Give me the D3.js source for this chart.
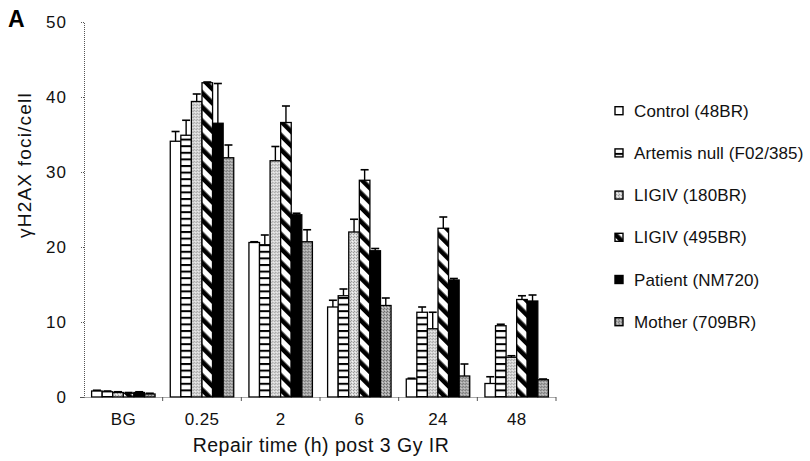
<!DOCTYPE html>
<html>
<head>
<meta charset="utf-8">
<script src="https://cdn.jsdelivr.net/npm/d3@7"></script>
<style>
    body { margin: 0; background: #fff; }
    svg { display: block; font-family: Arial, "Liberation Sans", sans-serif; }
    .tick text { font-size: 17px; fill: #111; }
</style>
</head>
<body>
<svg id="chart" width="810" height="461"></svg>
<script>
// data
var categories = ["BG", "0.25", "2", "6", "24", "48"];
var seriesNames = ["Control (48BR)", "Artemis null (F02/385)", "LIGIV (180BR)", "LIGIV (495BR)", "Patient (NM720)", "Mother (709BR)"];
var controlVals = [0.8, 34.1, 20.6, 12.0, 2.4, 1.8];
var controlErr = [0.1, 1.3, 0.1, 0.9, 0.1, 0.9];
var artemisVals = [0.7, 34.9, 20.3, 13.5, 11.3, 9.5];
var artemisErr = [0.1, 2.0, 1.3, 0.9, 0.7, 0.2];
var ligiv180Vals = [0.6, 39.4, 31.5, 22.0, 9.1, 5.3];
var ligiv180Err = [0.1, 1.0, 1.9, 1.7, 2.2, 0.2];
var ligiv495Vals = [0.5, 41.9, 36.6, 28.9, 22.5, 13.0];
var ligiv495Err = [0.1, 0.1, 2.2, 1.4, 1.5, 0.5];
var patientVals = [0.6, 36.5, 24.3, 19.5, 15.6, 12.8];
var patientErr = [0.1, 5.3, 0.2, 0.3, 0.2, 0.8];
var motherVals = [0.4, 31.9, 20.7, 12.2, 2.8, 2.3];
var motherErr = [0.1, 1.7, 1.6, 1.0, 1.6, 0.1];
var yTicks = [0, 10, 20, 30, 40, 50];

var seriesVals = [controlVals, artemisVals, ligiv180Vals, ligiv495Vals, patientVals, motherVals];
var seriesErr = [controlErr, artemisErr, ligiv180Err, ligiv495Err, patientErr, motherErr];
var fills = ["#fff", "url(#hlines)", "url(#stippleLight)", "url(#diag)", "#000", "url(#stippleDark)"];

var svg = d3.select("#chart");
var plotLeft = 84, plotRight = 556, plotTop = 22, plotBottom = 397;

// patterns
var defs = svg.append("defs");
var p = defs.append("pattern").attr("id", "hlines").attr("patternUnits", "userSpaceOnUse")
    .attr("width", 6).attr("height", 6.6);
p.append("rect").attr("width", 6).attr("height", 6.6).attr("fill", "#fff");
p.append("rect").attr("y", 0).attr("width", 6).attr("height", 2).attr("fill", "#000");

p = defs.append("pattern").attr("id", "diag").attr("patternUnits", "userSpaceOnUse")
    .attr("width", 10).attr("height", 10).attr("patternTransform", "rotate(-45)");
p.append("rect").attr("width", 10).attr("height", 10).attr("fill", "#fff");
p.append("rect").attr("x", 0).attr("width", 4.6).attr("height", 10).attr("fill", "#000");

function stipple(id, bg, dot1, dot2) {
    var s = defs.append("pattern").attr("id", id).attr("patternUnits", "userSpaceOnUse")
        .attr("width", 3).attr("height", 3);
    s.append("rect").attr("width", 3).attr("height", 3).attr("fill", bg);
    s.append("rect").attr("x", 0).attr("y", 0).attr("width", 1).attr("height", 1).attr("fill", dot1);
    s.append("rect").attr("x", 2).attr("y", 1).attr("width", 1).attr("height", 1).attr("fill", dot2);
    s.append("rect").attr("x", 1).attr("y", 2).attr("width", 1).attr("height", 1).attr("fill", dot1);
}
stipple("stippleLight", "#d6d6d6", "#9a9a9a", "#f4f4f4");
stipple("stippleDark", "#a9a9a9", "#6e6e6e", "#d0d0d0");

// scales
var x = d3.scaleBand().domain(categories).range([plotLeft, plotRight]).padding(0);
var xInner = d3.scaleBand().domain(d3.range(seriesNames.length))
    .range([7.6, x.bandwidth() - 7.6]).padding(0);
var y = d3.scaleLinear().domain([0, 50]).range([plotBottom, plotTop]);

// y axis
var yAxis = svg.append("g").attr("transform", "translate(" + plotLeft + ",0)")
    .call(d3.axisLeft(y).tickValues(yTicks).tickSize(4).tickPadding(13));
yAxis.select(".domain").attr("stroke", "#555").attr("stroke-dasharray", "1,1");
yAxis.selectAll(".tick line").attr("stroke", "#555").attr("stroke-dasharray", "1,1");
yAxis.selectAll(".tick text").style("letter-spacing", "1px");

// bars
var groups = svg.append("g").selectAll("g").data(categories).join("g")
    .attr("transform", function (c) { return "translate(" + x(c) + ",0)"; });

groups.each(function (c, ci) {
    var g = d3.select(this);
    seriesVals.forEach(function (vals, si) {
        var v = vals[ci];
        var bx = xInner(si), bw = xInner.bandwidth();
        g.append("rect")
            .attr("x", bx).attr("y", y(v))
            .attr("width", bw).attr("height", y(0) - y(v))
            .attr("fill", fills[si]).attr("stroke", "#000").attr("stroke-width", 1.3);
        var e = seriesErr[si][ci];
        var cx = bx + bw / 2;
        g.append("line").attr("x1", cx).attr("x2", cx)
            .attr("y1", y(v)).attr("y2", y(v + e))
            .attr("stroke", "#000").attr("stroke-width", 1.4);
        g.append("line").attr("x1", cx - 4).attr("x2", cx + 4)
            .attr("y1", y(v + e)).attr("y2", y(v + e))
            .attr("stroke", "#000").attr("stroke-width", 1.6);
    });
});

// x axis
var xAxis = svg.append("g").attr("transform", "translate(0," + plotBottom + ")")
    .call(d3.axisBottom(x).tickSize(0).tickPadding(16));
xAxis.select(".domain").attr("stroke", "#555").attr("stroke-dasharray", "1,1");
xAxis.selectAll(".tick text").style("letter-spacing", "0.3px");
xAxis.selectAll(".boundTick").data(categories).join("line")
    .attr("x1", function (c) { return x(c) + x.bandwidth(); })
    .attr("x2", function (c) { return x(c) + x.bandwidth(); })
    .attr("y1", 0).attr("y2", 4)
    .attr("stroke", "#555");

// titles
svg.append("text").attr("x", 321).attr("y", 452).attr("text-anchor", "middle")
    .style("font-size", "19.5px").style("letter-spacing", "0.5px").attr("fill", "#111")
    .text("Repair time (h) post 3 Gy IR");
svg.append("text").attr("transform", "translate(31,165) rotate(-90)").attr("text-anchor", "middle")
    .style("font-size", "19px").style("letter-spacing", "1.2px").attr("fill", "#111")
    .text("γH2AX foci/cell");
svg.append("text").attr("x", 8).attr("y", 27)
    .style("font-size", "23px").style("font-weight", "bold").attr("fill", "#000")
    .text("A");

// legend
var legend = svg.append("g").selectAll("g").data(seriesNames).join("g")
    .attr("transform", function (d, i) { return "translate(615," + (110.7 + i * 42.2) + ")"; });
legend.append("rect").attr("x", 0).attr("y", -4).attr("width", 8).attr("height", 8)
    .attr("fill", function (d, i) { return fills[i]; })
    .attr("stroke", "#000").attr("stroke-width", 1.4);
legend.append("text").attr("x", 19).attr("y", 6)
    .style("font-size", "17px").style("letter-spacing", "0.1px").attr("fill", "#111")
    .text(function (d) { return d; });
</script>
</body>
</html>
